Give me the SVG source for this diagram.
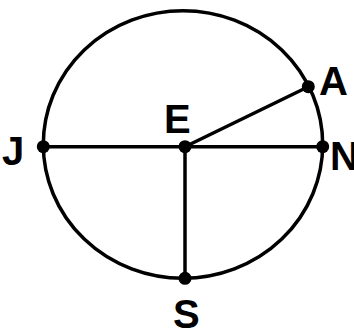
<svg xmlns="http://www.w3.org/2000/svg" width="354" height="328" viewBox="0 0 354 328">
<style>
.ln{stroke:#000;stroke-width:3.5;fill:none;stroke-linecap:round}
.dot{fill:#000}
.lbl{font-family:"Liberation Sans",Arial,sans-serif;font-weight:bold;font-size:40px;fill:#000}
</style>
<rect width="354" height="328" fill="#fff"/>
<g id="circle"><ellipse class="ln" cx="183" cy="144.5" rx="139.7" ry="133.8"/></g>
<g id="connectors">
<line class="ln" x1="43.3" y1="146.7" x2="322.7" y2="146.7"/>
<line class="ln" x1="185" y1="146.7" x2="185" y2="278.3"/>
<line class="ln" x1="185" y1="146.7" x2="308.3" y2="86.7"/>
</g>
<g id="J"><circle class="dot" cx="43.3" cy="146.7" r="6.5"/><text class="lbl" x="2" y="165">J</text></g>
<g id="E"><circle class="dot" cx="185" cy="146.7" r="6.5"/><text class="lbl" x="164" y="133">E</text></g>
<g id="N"><circle class="dot" cx="322.7" cy="146.7" r="6.5"/><text class="lbl" x="330" y="170">N</text></g>
<g id="A"><circle class="dot" cx="308.3" cy="86.7" r="6.5"/><text class="lbl" x="319" y="95">A</text></g>
<g id="S"><circle class="dot" cx="185" cy="278.3" r="6.5"/><text class="lbl" x="173" y="328">S</text></g>
</svg>
